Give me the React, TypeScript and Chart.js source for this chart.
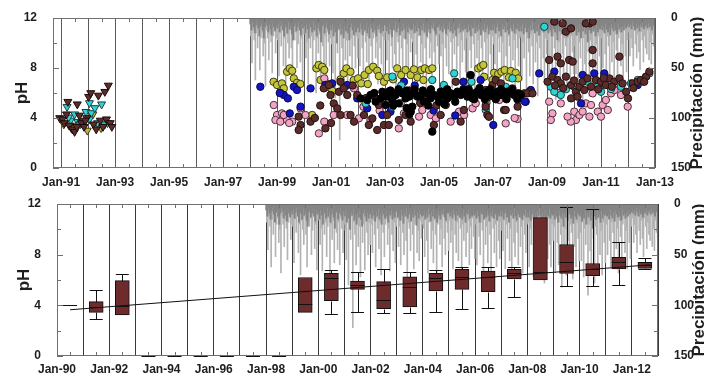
import React, { useEffect, useRef } from 'react';
import { Chart, registerables } from 'chart.js';

Chart.register(...registerables);

const FONT = "'Liberation Sans', Arial, Helvetica, sans-serif";
const INK = '#1e1e1e';

// ---------------- axis ticks / labels ----------------
const topGridYears = [1991, 1992, 1993, 1994, 1995, 1996, 1997, 1998, 1999, 2000, 2001, 2002, 2003, 2004, 2005, 2006, 2007, 2008, 2009, 2010, 2011, 2012, 2013];
const topLabelYears = [1991, 1993, 1995, 1997, 1999, 2001, 2003, 2005, 2007, 2009, 2011, 2013];
const topLabels = ['Jan-91', 'Jan-93', 'Jan-95', 'Jan-97', 'Jan-99', 'Jan-01', 'Jan-03', 'Jan-05', 'Jan-07', 'Jan-09', 'Jan-11', 'Jan-13'];
const bottomGridYears = [1990, 1991, 1992, 1993, 1994, 1995, 1996, 1997, 1998, 1999, 2000, 2001, 2002, 2003, 2004, 2005, 2006, 2007, 2008, 2009, 2010, 2011, 2012, 2013];
const bottomLabelYears = [1990, 1992, 1994, 1996, 1998, 2000, 2002, 2004, 2006, 2008, 2010, 2012];
const bottomLabels = ['Jan-90', 'Jan-92', 'Jan-94', 'Jan-96', 'Jan-98', 'Jan-00', 'Jan-02', 'Jan-04', 'Jan-06', 'Jan-08', 'Jan-10', 'Jan-12'];
const phTicks = [0, 4, 8, 12];
const phMinorTicks = [0, 2, 4, 6, 8, 10, 12];
const precipTicks = [0, 50, 100, 150];
const precipMinorTicks = [0, 25, 50, 75, 100, 125, 150];
const phTitle = 'pH';
const precipTitle = 'Precipitación (mm)';

// ---------------- precipitation (mm), 24 values per year from Jan-98 ----------------
const precipStart = 1998;
const precipPerYear = 24;
const precipDark = [
  6, 12, 4, 9, 15, 7, 3, 10, 18, 8, 5, 12, 20, 9, 4, 7, 14, 6, 11, 17, 5, 9, 13, 7,
  10, 5, 14, 8, 3, 12, 18, 6, 9, 15, 4, 11, 7, 16, 22, 8, 5, 13, 9, 4, 12, 17, 6, 10,
  8, 15, 6, 11, 20, 5, 9, 14, 3, 12, 7, 18, 10, 5, 13, 24, 8, 6, 15, 9, 4, 11, 16, 7,
  12, 6, 18, 9, 14, 25, 7, 11, 5, 16, 10, 20, 8, 13, 6, 15, 22, 9, 5, 12, 17, 8, 14, 10,
  9, 14, 5, 11, 17, 7, 12, 4, 15, 9, 20, 6, 10, 14, 5, 12, 18, 8, 11, 6, 15, 9, 13, 7,
  7, 13, 9, 16, 5, 11, 19, 8, 12, 4, 14, 10, 6, 17, 9, 13, 5, 11, 21, 8, 14, 6, 10, 12,
  11, 6, 15, 8, 13, 4, 10, 17, 7, 12, 5, 14, 9, 18, 6, 11, 15, 7, 10, 4, 13, 16, 8, 9,
  6, 12, 8, 14, 5, 10, 16, 7, 11, 4, 13, 9, 15, 6, 12, 18, 8, 10, 5, 14, 9, 12, 7, 11,
  9, 14, 6, 12, 18, 7, 10, 4, 15, 9, 13, 6, 11, 17, 8, 12, 5, 14, 10, 7, 16, 9, 12, 6,
  12, 7, 15, 9, 5, 13, 10, 18, 6, 11, 8, 14, 4, 12, 16, 7, 10, 13, 6, 15, 9, 11, 5, 13,
  8, 13, 6, 16, 10, 5, 14, 9, 20, 7, 12, 4, 11, 15, 8, 13, 6, 17, 10, 12, 5, 14, 9, 11,
  10, 15, 7, 12, 18, 6, 11, 14, 8, 22, 9, 13, 5, 16, 10, 7, 14, 11, 19, 6, 12, 15, 8, 10,
  12, 8, 17, 10, 14, 6, 20, 9, 13, 7, 16, 11, 24, 8, 12, 15, 6, 13, 10, 18, 7, 14, 9, 11,
  7, 12, 9, 15, 5, 11, 14, 8, 17, 6, 10, 13, 7, 12, 16, 5, 11, 9, 14, 8, 12, 6, 10, 8,
  5, 9, 6, 11, 4, 8, 12, 5, 10, 7, 13, 6, 9, 4, 11, 8, 6, 10, 5, 9, 7, 12, 6, 8,
];
const precipLight = [
  18, 45, 12, 22, 62, 15, 30, 10, 52, 20, 14, 38, 25, 68, 12, 20, 42, 16, 24, 55, 18, 12, 35, 20,
  22, 58, 15, 28, 12, 48, 20, 70, 16, 25, 40, 12, 30, 62, 18, 22, 14, 50, 26, 12, 44, 20, 65, 16,
  15, 40, 24, 66, 12, 30, 18, 52, 22, 14, 75, 20, 35, 16, 58, 12, 28, 45, 18, 60, 14, 24, 48, 20,
  26, 55, 14, 80, 20, 35, 12, 122, 18, 30, 60, 16, 42, 22, 72, 14, 38, 20, 65, 12, 28, 50, 18, 40,
  20, 48, 16, 30, 62, 14, 24, 44, 18, 70, 12, 28, 52, 20, 15, 40, 24, 66, 14, 30, 46, 18, 58, 22,
  14, 42, 22, 60, 16, 28, 50, 12, 36, 74, 18, 24, 46, 14, 30, 64, 20, 12, 48, 26, 56, 16, 34, 20,
  24, 52, 14, 36, 68, 18, 12, 44, 26, 58, 16, 30, 72, 20, 14, 40, 24, 62, 12, 34, 50, 18, 28, 46,
  16, 38, 26, 64, 12, 30, 48, 18, 56, 14, 24, 70, 20, 36, 12, 52, 28, 16, 60, 22, 44, 14, 32, 54,
  20, 60, 14, 32, 50, 18, 26, 74, 12, 40, 22, 58, 16, 30, 66, 14, 24, 48, 20, 62, 12, 36, 54, 18,
  26, 46, 16, 64, 20, 34, 12, 56, 24, 70, 14, 38, 52, 18, 28, 60, 12, 42, 22, 68, 16, 30, 48, 20,
  18, 62, 24, 40, 14, 72, 20, 34, 58, 16, 28, 66, 12, 44, 24, 78, 18, 30, 54, 14, 40, 62, 20, 36,
  22, 68, 14, 38, 60, 18, 30, 82, 16, 44, 24, 70, 12, 36, 58, 20, 28, 74, 14, 42, 62, 18, 34, 56,
  28, 56, 18, 72, 24, 40, 14, 90, 20, 46, 62, 16, 34, 78, 22, 30, 66, 14, 50, 26, 70, 18, 38, 58,
  20, 50, 14, 36, 62, 18, 28, 56, 12, 44, 24, 68, 16, 32, 58, 20, 14, 48, 26, 64, 12, 38, 54, 22,
  14, 38, 20, 30, 48, 12, 26, 40, 16, 34, 52, 14, 22, 44, 18, 30, 36, 12, 42, 24, 46, 16, 28, 34,
];

// ---------------- pH samples [year, pH] ----------------
const triBrown = [[1990.95, 4.0], [1991.05, 3.9], [1991.12, 3.6], [1991.25, 5.3], [1991.3, 3.4], [1991.42, 3.1], [1991.5, 2.9], [1991.6, 5.1], [1991.68, 4.2], [1991.75, 3.6], [1991.85, 3.3], [1991.95, 4.0], [1992.02, 5.7], [1992.1, 6.0], [1992.2, 3.5], [1992.3, 3.1], [1992.38, 5.8], [1992.45, 3.8], [1992.55, 3.3], [1992.62, 6.1], [1992.68, 3.9], [1992.75, 6.6], [1992.82, 3.6], [1992.88, 3.3], [1991.2, 4.3], [1991.9, 3.8], [1991.58, 3.3]];
const triCyan = [[1991.22, 4.9], [1991.35, 3.8], [1991.5, 4.3], [1991.62, 3.7], [1991.8, 3.6], [1991.92, 4.5], [1992.05, 5.2], [1992.12, 4.4], [1992.25, 4.8], [1992.35, 3.6], [1992.5, 5.1], [1991.28, 4.05], [1992.05, 3.9], [1992.62, 3.5], [1991.7, 3.5]];
const triOlive = [[1991.1, 3.5], [1991.58, 3.4], [1991.97, 3.0], [1992.18, 4.3], [1992.48, 3.2], [1991.38, 3.2], [1992.72, 3.6]];

const olivePts = [[1998.87, 6.9], [1999.0, 6.64], [1999.18, 6.77], [1999.25, 6.37], [1999.37, 7.7], [1999.47, 7.97], [1999.56, 7.78], [1999.62, 7.17], [1999.74, 6.82], [1999.86, 6.72], [1999.12, 6.02], [2000.3, 4.24], [2000.46, 7.97], [2000.54, 8.24], [2000.67, 8.1], [2000.75, 7.84], [2000.61, 7.04], [2000.8, 6.82], [2000.92, 6.45], [2001.04, 6.18], [2001.35, 7.09], [2001.47, 7.57], [2001.57, 7.97], [2001.72, 7.7], [2001.84, 7.04], [2002.0, 7.17], [2002.12, 6.77], [2002.24, 7.44], [2002.4, 7.84], [2002.56, 8.1], [2002.71, 7.78], [2002.77, 7.36], [2002.36, 6.72], [2002.96, 6.9], [2003.08, 7.25], [2003.3, 7.09], [2003.45, 7.97], [2003.6, 7.44], [2003.76, 7.84], [2003.95, 7.44], [2004.07, 7.89], [2004.2, 7.25], [2004.34, 7.84], [2004.47, 7.97], [2004.63, 7.84], [2004.75, 7.97], [2004.42, 7.04], [2006.45, 7.97], [2006.54, 8.1], [2006.64, 8.24], [2007.04, 7.62], [2007.19, 7.52], [2007.31, 7.7], [2007.43, 7.84], [2007.66, 7.76], [2007.84, 7.62], [2007.93, 7.17], [2006.67, 7.3], [2006.76, 5.22], [2006.98, 7.04], [2007.59, 7.25]];
const bluePts = [[1998.38, 6.5], [1999.25, 5.84], [1999.4, 5.57], [1999.62, 6.5], [1999.47, 4.37], [1999.87, 4.91], [1999.74, 6.24], [1999.1, 6.0], [2000.24, 6.37], [2000.79, 6.64], [2001.04, 6.77], [2001.6, 6.64], [2001.97, 5.57], [2002.34, 4.77], [2002.9, 4.24], [2003.2, 4.5], [2004.1, 6.6], [2004.8, 4.6], [2005.2, 6.3], [2005.6, 4.2], [2006.54, 7.04], [2007.01, 3.44], [2008.21, 5.3], [2008.4, 6.24], [2008.71, 7.57], [2009.27, 7.71], [2010.32, 7.44], [2010.75, 7.57], [2012.36, 6.64], [2008.18, 5.31], [2010.26, 5.17], [2011.12, 7.57], [2003.7, 6.9], [2005.9, 6.9]];
const cyanPts = [[2002.28, 5.17], [2002.96, 5.84], [2003.27, 7.31], [2003.27, 4.91], [2004.07, 5.84], [2004.75, 7.04], [2005.18, 6.64], [2005.56, 7.57], [2006.73, 4.64], [2007.47, 6.5], [2007.72, 7.17], [2008.9, 11.3], [2009.14, 6.5], [2009.27, 6.1], [2009.51, 5.84], [2010.0, 6.5], [2010.5, 6.9], [2011.0, 6.1], [2011.37, 6.32], [2011.74, 6.5], [2012.11, 6.77], [2012.36, 7.04], [2012.67, 7.31], [2012.79, 7.57], [2006.2, 6.9], [2003.6, 6.6], [2009.7, 6.3], [2010.9, 6.6], [2012.5, 6.9]];
const pinkPts = [[1998.88, 5.04], [1999.0, 4.24], [1999.18, 4.37], [1998.94, 3.84], [1999.12, 3.71], [1999.37, 3.84], [1999.56, 3.71], [1999.25, 4.24], [1999.87, 4.77], [2000.05, 4.24], [1999.45, 3.6], [2000.75, 7.17], [2000.55, 2.77], [2000.75, 3.71], [2001.1, 4.24], [2001.6, 4.24], [2001.85, 6.37], [2002.03, 3.97], [2002.46, 3.84], [2002.2, 4.9], [2002.8, 4.6], [2003.2, 5.04], [2003.51, 3.17], [2003.7, 4.37], [2004.26, 4.11], [2004.38, 4.64], [2004.69, 4.24], [2004.88, 3.97], [2005.43, 3.71], [2005.74, 4.51], [2006.24, 4.77], [2006.36, 5.17], [2006.11, 6.77], [2006.73, 5.04], [2007.23, 5.44], [2007.47, 3.57], [2007.91, 3.92], [2003.58, 5.17], [2003.95, 4.51], [2005.93, 4.24], [2007.8, 4.0], [2009.08, 5.31], [2009.2, 4.37], [2009.51, 5.17], [2009.14, 3.84], [2010.01, 4.51], [2010.07, 3.84], [2010.2, 4.24], [2010.32, 4.51], [2010.44, 5.17], [2010.63, 5.04], [2010.69, 5.97], [2010.88, 4.51], [2011.0, 4.11], [2011.06, 5.04], [2011.18, 5.44], [2011.25, 4.64], [2011.37, 5.97], [2011.5, 6.24], [2011.62, 6.77], [2011.74, 5.84], [2011.99, 4.91], [2009.88, 3.71], [2009.76, 4.11], [2010.57, 4.11], [2009.4, 6.0], [2010.95, 6.4]];
const brownPts = [[1999.8, 4.11], [1999.87, 3.44], [1999.8, 3.04], [2000.24, 3.71], [2000.79, 3.17], [2000.73, 6.37], [2000.92, 6.64], [2000.98, 5.84], [2001.1, 5.17], [2001.23, 4.77], [2001.35, 4.24], [2001.29, 6.1], [2001.47, 6.37], [2001.6, 5.84], [2001.72, 4.24], [2001.85, 3.71], [2001.97, 5.84], [2002.22, 4.24], [2002.4, 3.44], [2002.53, 3.97], [2002.65, 5.57], [2002.77, 5.04], [2002.96, 3.44], [2002.71, 3.04], [2001.35, 6.9], [2003.08, 4.24], [2003.14, 3.44], [2003.51, 3.84], [2003.95, 3.71], [2003.76, 4.24], [2004.5, 5.44], [2004.81, 3.44], [2005.06, 4.24], [2005.18, 5.44], [2005.43, 5.97], [2005.62, 6.9], [2005.8, 3.71], [2005.25, 5.04], [2006.0, 5.97], [2006.24, 5.57], [2006.73, 6.24], [2006.86, 5.71], [2006.79, 4.24], [2006.98, 6.64], [2007.1, 7.04], [2007.29, 6.77], [2007.41, 4.64], [2007.5, 5.71], [2007.72, 6.37], [2007.97, 5.97], [2007.91, 4.91], [2009.27, 11.71], [2009.58, 11.57], [2009.7, 10.91], [2009.89, 11.17], [2010.57, 11.57], [2010.69, 11.71], [2010.44, 11.57], [2009.08, 8.64], [2009.39, 8.91], [2009.51, 8.37], [2009.82, 8.64], [2009.95, 8.51], [2010.69, 9.44], [2010.69, 8.37], [2011.68, 8.91], [2008.15, 5.97], [2008.34, 6.1], [2009.02, 6.9], [2009.2, 7.31], [2009.39, 7.04], [2009.51, 6.77], [2009.7, 7.31], [2009.89, 6.64], [2009.89, 5.57], [2010.07, 6.1], [2010.2, 6.5], [2010.32, 6.9], [2010.5, 7.17], [2010.63, 6.5], [2010.81, 7.04], [2011.0, 6.9], [2011.18, 6.64], [2011.31, 7.17], [2011.49, 6.9], [2011.68, 7.17], [2011.8, 6.77], [2011.93, 6.1], [2012.0, 5.57], [2012.17, 6.77], [2012.36, 6.9], [2012.48, 7.04], [2012.67, 7.31], [2012.79, 7.71], [2010.13, 5.71], [2010.38, 6.24], [2005.92, 4.64], [2006.73, 4.9], [2006.85, 4.1], [2007.47, 4.64], [2008.27, 5.97], [2008.46, 5.97], [2003.3, 6.0], [2003.9, 6.2], [2004.3, 5.2], [2004.9, 5.0], [2002.3, 5.6], [2001.8, 6.6], [2000.6, 5.0], [2000.4, 4.0], [2001.0, 3.6], [2009.6, 6.4], [2010.9, 6.3], [2011.4, 6.5], [2012.2, 6.4], [2009.3, 6.6], [2010.0, 7.0], [2011.1, 7.2], [2012.6, 6.9]];
const blackPts = [[2002.09, 5.57], [2002.34, 5.44], [2002.46, 5.84], [2002.65, 5.31], [2002.84, 5.57], [2003.02, 5.04], [2003.14, 5.71], [2003.02, 5.71], [2003.14, 6.11], [2003.27, 5.44], [2003.39, 5.84], [2003.51, 5.17], [2003.64, 5.97], [2003.76, 5.57], [2003.89, 5.71], [2004.01, 4.91], [2003.95, 4.51], [2004.07, 5.97], [2004.2, 5.71], [2004.32, 5.84], [2004.44, 5.31], [2004.57, 5.97], [2004.69, 5.57], [2004.81, 5.84], [2004.94, 5.71], [2005.06, 6.11], [2005.18, 5.84], [2005.31, 5.57], [2005.43, 5.97], [2005.56, 5.71], [2005.68, 6.11], [2005.8, 5.84], [2005.93, 5.97], [2006.05, 5.71], [2006.17, 7.44], [2006.17, 5.84], [2006.3, 5.97], [2006.42, 6.11], [2006.55, 5.84], [2006.67, 5.97], [2006.79, 6.11], [2006.92, 5.84], [2007.04, 5.97], [2007.16, 6.11], [2007.29, 5.84], [2007.41, 5.97], [2007.53, 6.11], [2007.66, 5.97], [2007.78, 5.84], [2007.91, 5.97], [2008.03, 5.84], [2004.75, 2.91], [2003.8, 4.8], [2003.9, 4.3], [2006.1, 6.3], [2006.3, 5.5], [2006.5, 6.4], [2006.7, 5.5], [2006.9, 6.3], [2007.1, 5.5], [2007.3, 6.3], [2007.5, 5.5], [2007.7, 6.3], [2007.9, 5.5], [2003.2, 6.2], [2003.5, 6.3], [2003.8, 6.2], [2004.1, 6.3], [2004.4, 6.2], [2004.7, 6.3], [2005.0, 5.3], [2005.3, 6.3], [2005.6, 5.3], [2005.9, 6.3], [2002.6, 6.0], [2002.9, 6.1], [2003.3, 5.0], [2004.6, 5.0], [2005.2, 5.1]];

// ---------------- annual box plots (bottom) ----------------
const boxYears = [1990, 1991, 1992, 1993, 1994, 1995, 1996, 1997, 1998, 1999, 2000, 2001, 2002, 2003, 2004, 2005, 2006, 2007, 2008, 2009, 2010, 2011, 2012];
const boxLow = [4.0, 2.92, 3.24, 0, 0, 0, 0, 0, 0, 3.44, 3.28, 3.47, 3.37, 3.37, 3.44, 3.71, 3.82, 4.68, 6.0, 5.55, 5.55, 5.6, 6.87];
const boxQ1 = [4.0, 3.44, 3.24, 0, 0, 0, 0, 0, 0, 3.44, 4.37, 5.26, 3.74, 3.87, 5.13, 5.26, 5.08, 6.08, 6.0, 6.52, 6.34, 6.87, 6.92];
const boxMedian = [4.0, 3.9, 3.97, 0, 0, 0, 0, 0, 0, 4.07, 6.13, 5.6, 4.42, 5.45, 6.13, 6.2, 6.2, 6.52, 6.65, 7.39, 6.87, 7.39, 7.18];
const boxQ3 = [4.0, 4.29, 5.95, 0, 0, 0, 0, 0, 0, 6.2, 6.52, 5.92, 5.87, 6.26, 6.52, 6.84, 6.7, 6.84, 10.92, 8.8, 7.3, 7.79, 7.39];
const boxHigh = [4.0, 5.2, 6.47, 0, 0, 0, 0, 0, 0, 6.2, 6.79, 6.66, 6.84, 6.66, 6.79, 7.05, 7.0, 7.0, 10.92, 11.75, 11.6, 9.0, 7.7];
const trendYears = [1990.5, 2012.7];
const trendPH = [3.65, 7.2];

// ---------------- helpers ----------------
const tickFont = { family: FONT, size: 12, weight: 'bold' as const };
const toXY = (pts: number[][]) => pts.map(([x, y]) => ({ x, y }));
const precipSeries = (vals: number[], phase: number) =>
  vals.map((v, i) => ({ x: precipStart + (i + phase) / precipPerYear, y: v }));

function xScale(min: number, max: number, gridYears: number[], labelYears: number[], labels: string[], gridColor: string, pad: number) {
  return {
    type: 'linear', min, max, offset: false,
    grid: { color: gridColor, lineWidth: 1, drawTicks: false, offset: false },
    border: { display: false },
    afterBuildTicks: (s: any) => { s.ticks = gridYears.map((v) => ({ value: v })); },
    ticks: {
      autoSkip: false, maxRotation: 0, minRotation: 0, padding: pad, font: tickFont, color: INK,
      callback: (v: any) => { const i = labelYears.indexOf(Math.round(Number(v))); return i >= 0 ? labels[i] : ''; },
    },
    afterFit: (s: any) => { s.height = 20; },
  };
}
function phScale(width: number, titlePad: number) {
  return {
    type: 'linear', position: 'left', min: 0, max: 12,
    afterBuildTicks: (s: any) => { s.ticks = phTicks.map((v) => ({ value: v })); },
    grid: { display: false }, border: { display: false },
    ticks: { font: tickFont, color: INK, padding: 8 },
    title: { display: true, text: phTitle, color: INK, font: { family: FONT, size: 17, weight: 'bold' }, padding: { top: titlePad, bottom: 0 } },
    afterFit: (s: any) => { s.width = width; },
  };
}
function precipScale(width: number) {
  return {
    type: 'linear', position: 'right', reverse: true, min: 0, max: 150,
    afterBuildTicks: (s: any) => { s.ticks = precipTicks.map((v) => ({ value: v })); },
    grid: { display: false }, border: { display: false },
    ticks: { font: tickFont, color: INK, padding: 8 },
    afterFit: (s: any) => { s.width = width; },
  };
}
const precipDatasets = () => [
  { type: 'bar', label: 'p1', data: precipSeries(precipDark, 0.2), backgroundColor: '#858585', barThickness: 1.3, grouped: false, yAxisID: 'yP', xAxisID: 'x' },
  { type: 'bar', label: 'p2', data: precipSeries(precipLight, 0.7), backgroundColor: '#b3b3b3', barThickness: 1, grouped: false, yAxisID: 'yP', xAxisID: 'x' },
];
const pointSet = (data: number[][], fill: string, border: string, style: string, radius: number, rotation = 0) => ({
  type: 'scatter', data: toXY(data), backgroundColor: fill, borderColor: border, borderWidth: 1,
  pointStyle: style, pointRadius: radius, pointRotation: rotation, yAxisID: 'y', xAxisID: 'x',
});

const framePlugin = {
  id: 'frameTicks',
  afterDatasetsDraw(chart: any) {
    const { ctx, chartArea: a, scales } = chart;
    ctx.save();
    ctx.strokeStyle = '#707070';
    ctx.lineWidth = 1;
    ctx.strokeRect(Math.round(a.left) + 0.5, Math.round(a.top) + 0.5, Math.round(a.right - a.left) - 1, Math.round(a.bottom - a.top) - 1);
    ctx.beginPath();
    phMinorTicks.forEach((v) => {
      const py = Math.round(scales.y.getPixelForValue(v)) + 0.5;
      const len = v % 4 === 0 ? 6 : 4;
      ctx.moveTo(a.left, py); ctx.lineTo(a.left + len, py);
    });
    precipMinorTicks.forEach((v) => {
      const py = Math.round(scales.yP.getPixelForValue(v)) + 0.5;
      const len = v % 50 === 0 ? 6 : 4;
      ctx.moveTo(a.right - len, py); ctx.lineTo(a.right, py);
    });
    const x = scales.x;
    for (let yr = Math.floor(x.min); yr < x.max; yr++) {
      const px = Math.round(x.getPixelForValue(yr + 0.5)) + 0.5;
      if (px <= a.left || px >= a.right) continue;
      ctx.moveTo(px, a.top); ctx.lineTo(px, a.top + 4);
      ctx.moveTo(px, a.bottom - 4); ctx.lineTo(px, a.bottom);
    }
    ctx.stroke();
    ctx.restore();
  },
};
const rightTitle = (cx: number) => ({
  id: 'rightTitle',
  afterDraw(chart: any) {
    const { ctx, chartArea: a } = chart;
    ctx.save();
    ctx.translate(cx, (a.top + a.bottom) / 2);
    ctx.rotate(-Math.PI / 2);
    ctx.font = `bold 17px ${FONT}`;
    ctx.fillStyle = INK;
    ctx.textAlign = 'center';
    ctx.textBaseline = 'middle';
    ctx.fillText(precipTitle, 0, 0);
    ctx.restore();
  },
});
const boxPlugin = {
  id: 'boxWhiskers',
  afterDatasetsDraw(chart: any) {
    const { ctx, scales } = chart;
    const x = scales.x, y = scales.y;
    ctx.save();
    ctx.strokeStyle = '#111';
    ctx.lineWidth = 1;
    ctx.beginPath();
    boxYears.forEach((yr, i) => {
      const cx = x.getPixelForValue(yr + 0.5);
      const h = 6.5;
      const pyv = (v: number) => Math.round(y.getPixelForValue(v)) + 0.5;
      if (boxHigh[i] > boxQ3[i]) {
        ctx.moveTo(Math.round(cx) + 0.5, pyv(boxQ3[i])); ctx.lineTo(Math.round(cx) + 0.5, pyv(boxHigh[i]));
        ctx.moveTo(cx - h, pyv(boxHigh[i])); ctx.lineTo(cx + h, pyv(boxHigh[i]));
      }
      if (boxLow[i] < boxQ1[i]) {
        ctx.moveTo(Math.round(cx) + 0.5, pyv(boxQ1[i])); ctx.lineTo(Math.round(cx) + 0.5, pyv(boxLow[i]));
        ctx.moveTo(cx - h, pyv(boxLow[i])); ctx.lineTo(cx + h, pyv(boxLow[i]));
      }
      ctx.moveTo(cx - 7, pyv(boxMedian[i])); ctx.lineTo(cx + 7, pyv(boxMedian[i]));
    });
    ctx.stroke();
    ctx.restore();
  },
};

const baseOptions = {
  responsive: false, animation: false, events: [],
  plugins: { legend: { display: false }, tooltip: { enabled: false } },
};

function useChart(ref: React.RefObject<HTMLCanvasElement>, make: () => any) {
  useEffect(() => {
    const chart = new Chart(ref.current as HTMLCanvasElement, make());
    return () => chart.destroy();
  }, []);
}

function TopChart() {
  const ref = useRef<HTMLCanvasElement>(null);
  useChart(ref, () => ({
    type: 'scatter',
    data: {
      datasets: [
        pointSet(blackPts, '#000000', '#000000', 'circle', 3.7),
        pointSet(brownPts, '#5b2c2c', '#241010', 'circle', 3.7),
        pointSet(cyanPts, '#2fd3d3', '#1a4040', 'circle', 3.7),
        pointSet(bluePts, '#1515c0', '#0a0a50', 'circle', 3.7),
        pointSet(pinkPts, '#f3a4c6', '#4a3038', 'circle', 3.7),
        pointSet(olivePts, '#c6c63a', '#3c3c10', 'circle', 3.7),
        pointSet(triBrown, '#5b2c2c', '#1a0a0a', 'triangle', 4.6, 180),
        pointSet(triCyan, '#2fd3d3', '#1a4040', 'triangle', 4.6, 180),
        pointSet(triOlive, '#b8b83a', '#3c3c10', 'triangle', 4.6, 180),
        ...precipDatasets(),
      ],
    },
    options: {
      ...baseOptions,
      layout: { padding: { top: 18, left: 0, right: 0, bottom: 0 } },
      scales: {
        x: xScale(1990.7, 2013, topGridYears, topLabelYears, topLabels, '#5a5a5a', 7),
        y: phScale(53, 12),
        yP: precipScale(49),
      },
    },
    plugins: [framePlugin, rightTitle(697)],
  }));
  return <canvas ref={ref} width={704} height={188} style={{ display: 'block', width: 704, height: 188 }} />;
}

function BottomChart() {
  const ref = useRef<HTMLCanvasElement>(null);
  useChart(ref, () => {
    const boxes = boxYears
      .map((yr, i) => ({ x: yr + 0.5, y: [boxQ1[i], boxQ3[i]] }))
      .filter((b) => b.y[1] > b.y[0]);
    return {
      type: 'scatter',
      data: {
        datasets: [
          { type: 'scatter', data: trendYears.map((x, i) => ({ x, y: trendPH[i] })), showLine: true, borderColor: '#111', borderWidth: 1, pointRadius: 0, yAxisID: 'y', xAxisID: 'x' },
          { type: 'bar', data: boxes, backgroundColor: '#6d2b2b', borderColor: '#111', borderWidth: 1, borderSkipped: false, barThickness: 14, grouped: false, yAxisID: 'y', xAxisID: 'x' },
          ...precipDatasets(),
        ],
      },
      options: {
        ...baseOptions,
        layout: { padding: { top: 16, left: 0, right: 0, bottom: 0 } },
        scales: {
          x: xScale(1990, 2013, bottomGridYears, bottomLabelYears, bottomLabels, '#3a3a3a', 6),
          y: phScale(57, 14),
          yP: precipScale(46),
        },
      },
      plugins: [boxPlugin, framePlugin, rightTitle(699)],
    };
  });
  return <canvas ref={ref} width={704} height={188} style={{ display: 'block', width: 704, height: 188 }} />;
}

export default function App() {
  return (
    <div style={{ position: 'fixed', left: 0, top: 0, width: 704, height: 376, background: '#ffffff', overflow: 'hidden' }}>
      <TopChart />
      <BottomChart />
    </div>
  );
}
